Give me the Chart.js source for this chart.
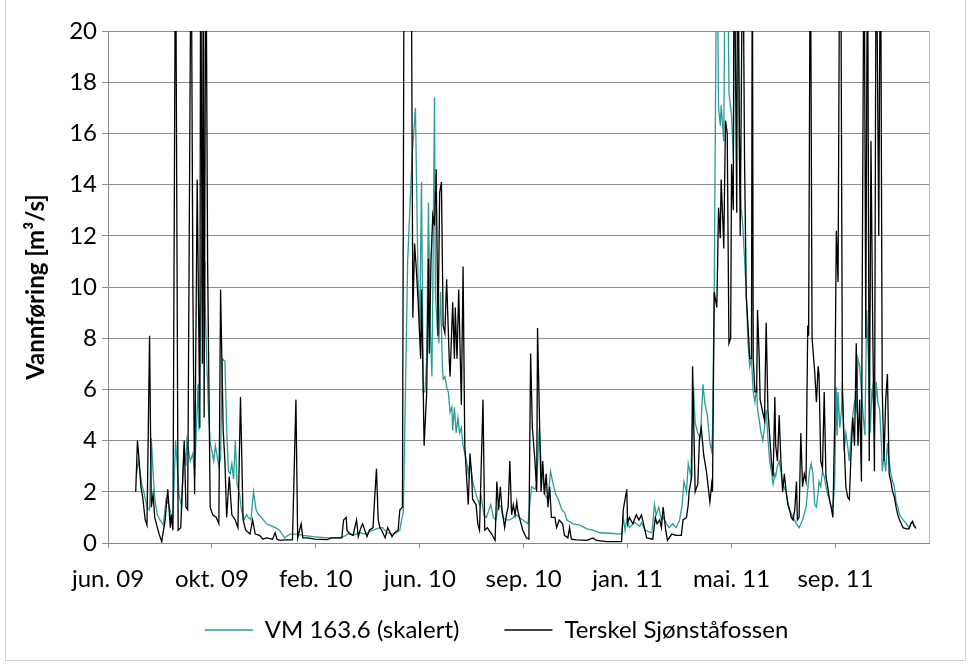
<!DOCTYPE html>
<html><head><meta charset="utf-8">
<script src="https://cdn.jsdelivr.net/npm/chart.js@4"></script>
<style>html,body{margin:0;padding:0;background:#fff;}canvas{display:block;}</style>
</head><body>
<canvas id="c" width="969" height="664"></canvas>
<script>
// x positions are days counted from the first axis tick (jun. 09)
const tickDays = [0, 120, 240, 360, 480, 600, 720, 840];
const tickLabels = ['jun. 09', 'okt. 09', 'feb. 10', 'jun. 10', 'sep. 10', 'jan. 11', 'mai. 11', 'sep. 11'];
const seriesNames = ['VM 163.6 (skalert)', 'Terskel Sjønståfossen'];
const yTitle = 'Vannføring [m³/s]';

const vmDays = [33,35,36,39,42,45,48,50,52,54,57,60,64,67,70,73,75,78,80,82,85,88,90,91,95,98,100,104,105,107,109,111,112,114,116,118,120,122,124,126,128,130,132,135,137,139,141,143,145,147,149,152,154,157,160,162,165,168,171,173,177,183,193,198,204,210,218,225,237,253,268,275,279,283,291,297,302,310,314,317,322,328,333,337,339,341,343,346,351,355,358,360,362,364,366,368,370,372,374,375,377,378,380,382,384,386,387,389,391,393,395,397,398,400,402,404,406,408,410,412,414,416,418,420,421,425,429,431,434,437,442,445,448,451,454,456,460,464,468,472,475,479,485,489,493,495,498,500,504,508,511,514,517,520,524,527,530,537,545,553,560,568,579,593,595,597,599,602,608,614,616,620,628,631,633,636,639,641,645,648,652,656,660,663,665,668,670,673,676,678,681,684,687,689,692,695,697,698,700,703,705,707,708,711,713,715,717,720,722,724,727,729,731,733,735,737,739,741,743,745,747,749,750,752,754,756,758,760,762,764,766,768,770,771,773,775,777,779,783,785,787,791,795,798,802,806,810,812,814,816,818,820,821,823,825,827,829,831,833,835,837,839,841,842,843,845,847,848,850,852,854,856,858,860,862,864,866,868,870,872,874,876,878,880,882,883,885,887,889,891,893,894,896,898,900,902,904,906,908,910,912,914,918,922,925,927,929,933];
const vmVals = [2.7,3.2,3.0,2.3,1.9,1.4,1.3,4.1,2.8,1.7,1.1,0.9,0.7,1.7,1.5,1.1,1.0,4.0,3.0,1.9,1.4,3.8,3.0,4.0,3.2,3.5,2.6,6.2,4.4,9,12.3,11,9.5,7.2,5.2,3.9,3.6,3.2,3.8,3.4,3.0,3.3,7.2,7.1,4.5,2.8,2.7,3.1,2.5,4.0,2.3,1.9,1.3,0.9,1.1,1.0,0.9,2.0,1.3,1.15,1.0,0.75,0.6,0.5,0.2,0.35,0.35,0.3,0.25,0.2,0.2,0.3,0.4,0.3,0.4,0.35,0.45,0.55,0.6,0.6,0.4,0.35,0.4,0.5,0.9,1.2,5,11,15,17.0,10.3,8.5,14.1,5.9,5.9,7.2,13.3,8.5,6.5,9.8,17.4,9.8,8.5,7.8,9.8,7.0,6.4,6.5,6.1,5.9,5.1,5.3,4.4,5.3,4.3,4.9,4.3,4.5,3.8,3.5,3.2,2.7,3.2,2.7,2.4,1.9,1.5,1.8,1.1,1.0,1.5,1.0,0.9,1.5,1.4,1.0,0.9,0.9,1.0,1.1,1.0,0.9,0.75,2.2,2.1,2.3,4.5,3.2,1.9,1.7,2.8,2.3,1.9,1.7,1.3,1.2,0.9,0.75,0.7,0.55,0.5,0.4,0.38,0.35,1.0,0.5,0.9,0.6,0.8,0.65,0.8,0.5,0.4,1.5,1.1,1.4,0.9,1.0,0.75,0.6,0.75,0.6,0.9,1.5,2.4,2.0,3.1,2.6,6.1,4.7,4.3,4.1,6.2,5.5,5.0,3.9,3.6,4.3,9.8,25,17.0,16.3,17.1,15.7,25,25,17.6,16.7,15.0,25,25,15,13.1,12.4,11.1,9.8,7.8,6.9,7.2,5.9,5.5,6.1,5.2,4.8,4.3,4.0,4.5,5.2,4.1,3.2,2.8,2.3,2.7,2.6,3.0,3.2,2.8,2.3,2.0,1.6,1.3,1.0,0.75,0.6,0.9,1.4,2.8,3.1,2.7,1.5,1.4,2.0,2.4,2.2,2.8,2.6,2.2,1.9,1.7,1.4,1.4,2.2,6.1,4.2,5.9,4.5,5.2,6.3,3.6,4.3,3.8,3.2,4.2,5.0,5.5,5.2,7.2,6.9,5.9,5.0,4.2,9.1,7.2,4.3,5.9,6.1,4.2,6.3,5.5,5.2,3.9,2.8,3.4,2.8,3.9,3.2,2.7,2.4,2.2,1.6,1.4,1.1,0.9,0.75,0.6,0.75,0.8,0.55];

const tDays = [32,34,36,38,40,43,45,48,50,52,54,57,59,62,66,69,72,73,75,78,81,84,88,90,92,96,98,100,103,106,107,109,110,111,113,115,118,121,125,128,130,133,135,137,140,143,147,150,153,156,159,164,167,170,175,179,183,190,193,195,198,204,213,217,219,223,225,230,239,253,258,264,270,272,275,276,279,283,287,289,292,294,299,302,306,308,310,312,314,316,320,323,328,331,335,337,340,342,350,352,354,356,358,361,362,364,365,368,370,371,373,375,377,379,381,383,385,387,389,391,394,395,398,400,401,403,405,408,410,412,414,416,418,420,421,425,427,429,433,435,438,443,447,449,451,453,455,458,460,462,464,466,468,470,472,473,475,479,483,486,488,490,493,495,496,498,500,502,504,506,508,510,512,516,518,521,525,527,531,533,535,541,553,560,564,576,593,595,599,600,602,606,610,613,616,620,622,629,632,634,637,639,641,644,646,651,656,662,664,668,670,671,674,675,676,678,681,683,685,688,691,695,697,698,700,703,704,705,707,708,710,711,713,715,717,719,720,722,723,726,727,730,733,735,737,739,741,743,744,745,747,749,750,752,753,756,758,760,762,764,766,768,770,771,773,775,777,779,781,783,785,787,789,791,793,795,796,798,800,802,804,806,808,809,811,813,816,818,820,821,823,825,827,829,831,833,835,837,839,841,843,845,846,848,850,852,854,856,858,860,862,864,866,868,870,871,873,875,877,879,881,883,885,887,890,892,894,896,898,900,902,904,906,908,910,912,914,916,918,922,925,927,929,931,933];
const tVals = [2.0,4.0,3.2,2.2,1.8,0.9,0.7,8.1,1.4,1.9,1.0,0.6,0.35,0.05,0.9,2.1,0.6,1.1,0.5,25,0.5,0.6,4.0,1.4,1.3,25,10,1.9,14.2,4.5,25,7,25,4.9,25,11,1.4,1.1,1.0,0.75,9.9,4.4,3.2,1.0,2.6,1.1,0.9,0.6,5.7,0.9,0.5,0.35,0.9,0.35,0.3,0.15,0.2,0.15,0.4,0.15,0.1,0.12,0.12,5.6,0.2,0.75,0.2,0.2,0.15,0.13,0.2,0.2,0.2,0.9,1.0,0.5,0.35,0.3,0.9,0.25,0.6,0.75,0.25,0.5,0.6,1.8,2.9,0.9,0.6,0.5,0.2,0.6,0.25,0.4,0.5,1.3,1.4,25,25,8.8,11.7,10.7,9.5,7.2,9.9,6.0,3.8,5.9,11.1,7.4,11.1,12.8,12.4,14.6,8.1,13.7,14.1,8.5,8.2,10.3,7.2,6.5,9.4,7.2,9.2,7.2,9.9,5.4,10.8,3.8,2.6,1.5,3.5,2.6,1.7,1.5,0.75,0.5,5.6,0.5,0.6,0.35,0.1,2.4,1.3,2.2,1.3,0.6,1.1,1.4,3.2,1.1,1.5,1.1,1.6,1.3,1.0,0.5,0.2,0.15,7.4,4.5,3.2,2.0,8.4,5.2,2.0,3.2,1.9,2.7,1.4,2.2,1.0,1.0,0.6,0.9,0.75,0.3,0.2,0.6,0.15,0.12,0.1,0.2,0.1,0.05,0.05,1.3,2.1,0.75,1.0,0.75,1.1,0.9,1.1,0.5,0.2,0.15,1.0,0.75,0.9,0.6,1.4,0.5,0.1,0.35,0.3,0.3,0.9,1.0,1.5,2.0,2.6,6.9,5.2,2.0,2.3,4.1,4.5,3.4,2.8,1.6,2.3,2.0,9.8,9.2,11.1,13.1,11.9,14.2,12.5,11.5,16.5,16.0,7.8,8.0,14.8,13.0,25,12.9,25,12,25,15,9.6,8.5,7.2,7.2,25,7.2,5.9,5.9,9.1,7.2,5.6,5.1,4.8,8.6,5.2,4.2,3.2,2.6,5.7,3.8,3.2,5.0,3.2,2.0,2.7,2.0,1.5,1.3,1.0,0.9,1.3,2.4,0.9,1.0,4.3,2.2,2.7,2.4,8.5,8.1,25,8.0,6.7,5.5,6.9,6.6,3.2,2.9,5.9,2.6,2.2,1.7,1.4,1.0,4.5,12.2,10.2,25,25,5.9,3.9,2.2,1.8,1.7,3.5,4.9,3.8,7.8,3.8,5.6,2.4,10.7,25,8,25,3.2,15.7,8.5,2.8,25,12,25,6.0,3.2,5.6,6.6,2.7,2.4,2.0,1.8,1.4,1.1,0.9,0.75,0.6,0.55,0.55,0.75,0.85,0.65,0.6];

const toPts = (d, v) => d.map((x, i) => ({ x: x, y: v[i] }));

const framePlugin = {
  id: 'frame',
  beforeLayout(chart) {
    const lg = chart.legend;
    if (lg && !lg._fixedFit) {
      const f = lg.fit;
      lg.fit = function () { f.call(this); this.height = 61; };
      lg._fixedFit = true;
    }
  },
  afterLayout(chart) {
    const lg = chart.legend;
    if (lg) { lg.top = 573; lg.bottom = 664; lg.height = 91; }
  },
  afterDraw(chart) {
    const { ctx, chartArea: a } = chart;
    ctx.save();
    ctx.lineWidth = 1;
    ctx.strokeStyle = '#bcbcbc';
    ctx.beginPath();
    const rx = Math.round(a.right) + 0.5;
    ctx.moveTo(rx, a.top); ctx.lineTo(rx, a.bottom);
    ctx.stroke();
    ctx.strokeStyle = '#d0d0d0';
    ctx.strokeRect(5.5, -2, 960, 662.5);
    ctx.restore();
  }
};

function draw() {
  Chart.defaults.font.family = 'Lato';
  new Chart(document.getElementById('c'), {
    type: 'line',
    data: {
      datasets: [
        { label: seriesNames[0], data: toPts(vmDays, vmVals), borderColor: '#2a9d98', backgroundColor: '#2a9d98', borderWidth: 1.3, pointRadius: 0, tension: 0, order: 2 },
        { label: seriesNames[1], data: toPts(tDays, tVals), borderColor: '#000000', backgroundColor: '#000000', borderWidth: 1.3, pointRadius: 0, tension: 0, order: 1 }
      ]
    },
    options: {
      responsive: false,
      animation: false,
      devicePixelRatio: 1,
      layout: { padding: { left: 64, right: 40, top: 31, bottom: 0 } },
      scales: {
        x: {
          type: 'linear', min: 0, max: 948,
          afterBuildTicks: s => { s.ticks = tickDays.map(v => ({ value: v })); },
          afterFit: s => { s.height = 60; },
          ticks: { callback: v => tickLabels[tickDays.indexOf(v)], font: { family: 'Lato', size: 24 }, color: '#000', padding: 17, maxRotation: 0, autoSkip: false },
          grid: { drawOnChartArea: false, drawTicks: true, tickLength: 5, color: '#868686' },
          border: { display: true, color: '#868686' }
        },
        y: {
          min: 0, max: 20,
          ticks: { stepSize: 2, font: { family: 'Lato', size: 24 }, color: '#000', padding: 5 },
          grid: { color: '#8c8c8c', tickLength: 6, drawTicks: true },
          border: { display: true, color: '#868686' },
          title: { display: true, text: yTitle, font: { family: 'Lato', size: 24, weight: 'bold' }, color: '#000', padding: { top: -42, bottom: 0 } },
          afterFit: s => { s.width = 44; }
        }
      },
      plugins: {
        tooltip: { enabled: false },
        legend: {
          position: 'bottom',
          labels: {
            usePointStyle: true, pointStyle: 'line', pointStyleWidth: 48, padding: 45,
            font: { family: 'Lato', size: 24 }, color: '#000',
            sort: (a, b) => a.datasetIndex - b.datasetIndex
          }
        }
      }
    },
    plugins: [framePlugin]
  });
}
if (document.fonts && document.fonts.load) {
  Promise.all([document.fonts.load('24px Lato'), document.fonts.load('bold 24px Lato')]).then(draw, draw);
} else { draw(); }
</script>
</body></html>
